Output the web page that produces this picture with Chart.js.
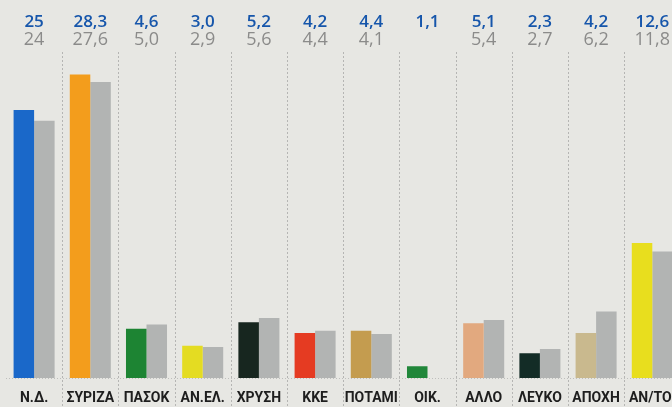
<!DOCTYPE html>
<html>
<head>
<meta charset="utf-8">
<script src="https://cdn.jsdelivr.net/npm/chart.js@4/dist/chart.umd.min.js"></script>
<style>
  html, body { margin: 0; padding: 0; overflow: hidden; background: #e7e7e3; }
  #wrap { position: relative; width: 690px; height: 407px; }
</style>
</head>
<body>
<div id="wrap"><canvas id="c"></canvas></div>
<script>
const categories = ['Ν.Δ.', 'ΣΥΡΙΖΑ', 'ΠΑΣΟΚ', 'ΑΝ.ΕΛ.', ['ΧΡΥΣΗ', 'ΑΥΓΗ'], 'ΚΚΕ', 'ΠΟΤΑΜΙ', 'ΟΙΚ.', 'ΑΛΛΟ', 'ΛΕΥΚΟ', 'ΑΠΟΧΗ', 'ΑΝ/ΤΟΙ'];
const currentValues = [25, 28.3, 4.6, 3.0, 5.2, 4.2, 4.4, 1.1, 5.1, 2.3, 4.2, 12.6];
const previousValues = [24, 27.6, 5.0, 2.9, 5.6, 4.4, 4.1, null, 5.4, 2.7, 6.2, 11.8];
const currentLabels = ['25', '28,3', '4,6', '3,0', '5,2', '4,2', '4,4', '1,1', '5,1', '2,3', '4,2', '12,6'];
const previousLabels = ['24', '27,6', '5,0', '2,9', '5,6', '4,4', '4,1', '', '5,4', '2,7', '6,2', '11,8'];
const partyColors = ['#1a68c9', '#f39d1c', '#1d8433', '#e4dc22', '#17261f', '#e53b22', '#c49c4f', '#21873a', '#e2a97f', '#132c26', '#c9b98e', '#e8de1e'];
const previousColor = '#b2b4b3';

const separators = {
  id: 'separators',
  beforeDatasetsDraw(chart) {
    const ctx = chart.ctx, xs = chart.scales.x, area = chart.chartArea;
    ctx.save();
    ctx.strokeStyle = 'rgba(120,120,120,0.45)';
    ctx.lineWidth = 1;
    ctx.setLineDash([2, 2]);
    for (let i = 0; i < categories.length - 1; i++) {
      const x = Math.round((xs.getPixelForValue(i) + xs.getPixelForValue(i + 1)) / 2) + 0.5;
      ctx.beginPath();
      ctx.moveTo(x, area.top);
      ctx.lineTo(x, chart.height);
      ctx.stroke();
    }
    ctx.strokeStyle = 'rgba(130,130,130,0.4)';
    ctx.setLineDash([1, 2]);
    ctx.beginPath();
    ctx.moveTo(area.left, area.bottom + 0.5);
    ctx.lineTo(area.right, area.bottom + 0.5);
    ctx.stroke();
    ctx.restore();
  }
};

const topLabels = {
  id: 'topLabels',
  afterDraw(chart) {
    const ctx = chart.ctx, xs = chart.scales.x;
    ctx.save();
    ctx.textAlign = 'center';
    ctx.textBaseline = 'alphabetic';
    for (let i = 0; i < categories.length; i++) {
      const x = xs.getPixelForValue(i);
      ctx.font = '600 17px "Open Sans"';
      ctx.fillStyle = '#1656ab';
      ctx.fillText(currentLabels[i], x, 27);
      ctx.font = '18px "Open Sans"';
      ctx.fillStyle = '#8b8b8a';
      ctx.fillText(previousLabels[i], x, 45);
    }
    ctx.restore();
  }
};

new Chart(document.getElementById('c'), {
  type: 'bar',
  data: {
    labels: categories,
    datasets: [
      { data: currentValues, backgroundColor: partyColors, categoryPercentage: 0.73, barPercentage: 1 },
      { data: previousValues, backgroundColor: previousColor, categoryPercentage: 0.73, barPercentage: 1 }
    ]
  },
  options: {
    responsive: true,
    maintainAspectRatio: false,
    animation: false,
    layout: { padding: { left: 6, right: 9.6, top: 52, bottom: 0 } },
    plugins: { legend: { display: false }, tooltip: { enabled: false } },
    scales: {
      x: {
        grid: { display: false, drawTicks: false },
        border: { display: false },
        ticks: {
          color: '#1e1e1e',
          font: { family: 'Roboto', weight: 'bold', size: 14, lineHeight: 1.1 },
          padding: 13,
          maxRotation: 0,
          autoSkip: false
        },
        afterFit(s) { s.height = 29; }
      },
      y: { display: false, min: 0, max: 30.4 }
    }
  },
  plugins: [separators, topLabels]
});
</script>
</body>
</html>
